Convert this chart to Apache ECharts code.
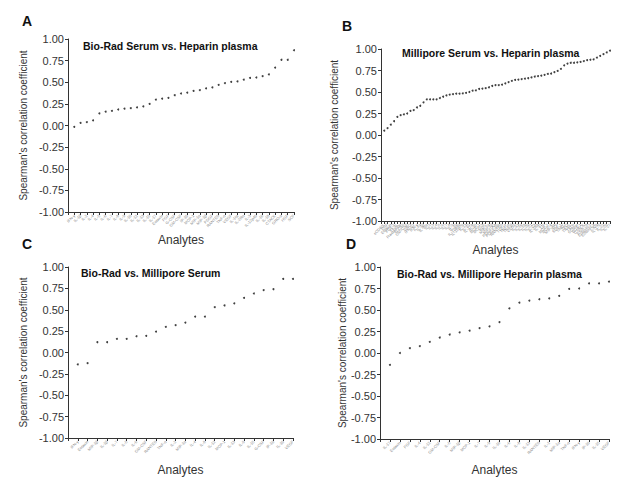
<!DOCTYPE html>
<html><head><meta charset="utf-8">
<script src="https://cdn.jsdelivr.net/npm/echarts@6/dist/echarts.min.js"></script>
<style>html,body{margin:0;padding:0;background:#fff}#c{width:617px;height:477px}</style>
</head><body><div id="c"></div>
<script>
var namesA = ['IFN-γ','IL-1β','IL-2','IL-4','IL-5','IL-6','IL-7','IL-8','IL-9','IL-10','IL-12','IL-13','IL-15','IL-17','Eotaxin','FGF','G-CSF','GM-CSF','IP-10','MCP-1','MIP-1α','MIP-1β','PDGF','RANTES','TNF-α','VEGF','IL-1ra','IL-2Rα','IL-3','IL-12p40','IL-16','IL-18','CTACK','GRO-α','HGF','SCF'];
var valuesA = [-0.015,0.03,0.04,0.06,0.14,0.16,0.17,0.185,0.195,0.2,0.21,0.22,0.25,0.30,0.31,0.32,0.35,0.37,0.38,0.40,0.41,0.43,0.44,0.47,0.49,0.505,0.51,0.53,0.55,0.555,0.57,0.59,0.67,0.76,0.76,0.87];

var namesB = ['sCD40L','EGF','Eotaxin','FGF-2','Flt-3L','Fractalkine','G-CSF','GM-CSF','GRO','IFN-α2','IFN-γ','IL-1α','IL-1β','IL-1ra','IL-2','IL-3','IL-4','IL-5','IL-6','IL-7','IL-8','IL-9','IL-10','IL-12p40','IL-12p70','IL-13','IL-15','IL-17A','IP-10','MCP-1','MCP-3','MDC','MIP-1α','MIP-1β','PDGF-AA','PDGF-BB','RANTES','TGF-α','TNF-α','TNF-β','VEGF','IL-33','IL-16','IL-18','IL-20','IL-21','IL-23','IL-28A','IL-31','LIF','MCP-2','MCP-4','MIP-3α','SCF','SDF-1','TARC','TPO','TRAIL','TSLP','6Ckine','BCA-1','CTACK','ENA-78','Eotaxin-2','Eotaxin-3','I-309','IL-17F','IL-22','IL-25','IL-27'];
var valuesB = [0.05,0.08,0.12,0.16,0.21,0.23,0.24,0.25,0.28,0.29,0.32,0.34,0.38,0.415,0.415,0.415,0.415,0.43,0.445,0.46,0.47,0.475,0.48,0.48,0.485,0.49,0.50,0.515,0.52,0.535,0.54,0.545,0.555,0.57,0.58,0.58,0.585,0.60,0.615,0.63,0.64,0.645,0.65,0.655,0.66,0.67,0.68,0.685,0.69,0.70,0.71,0.715,0.73,0.745,0.77,0.81,0.83,0.84,0.84,0.845,0.85,0.86,0.87,0.875,0.88,0.90,0.92,0.94,0.96,0.98];

var namesC = ['IFN-γ','Eotaxin','MIP-1β','IL-1β','IL-7','IL-5','IL-6','GM-CSF','RANTES','TNF-α','IL-2','MIP-1α','IL-4','IL-8','IL-12','MCP-1','IL-13','IL-9','IL-15','G-CSF','IP-10','IL-10','VEGF'];
var valuesC = [-0.14,-0.125,0.12,0.12,0.16,0.16,0.19,0.195,0.245,0.30,0.32,0.35,0.42,0.42,0.53,0.55,0.575,0.64,0.69,0.73,0.74,0.86,0.86];

var namesD = ['IL-17','Eotaxin','FGF','IL-4','IL-12','GM-CSF','IL-5','MIP-1β','MCP-1','IL-7','IL-9','IL-10','IL-6','IL-8','IL-13','RANTES','IL-2','MIP-1α','TNF-α','IFN-γ','IP-10','IL-15','VEGF'];
var valuesD = [-0.137,0.0,0.056,0.08,0.13,0.18,0.215,0.24,0.26,0.29,0.31,0.36,0.52,0.585,0.61,0.625,0.635,0.665,0.745,0.75,0.81,0.81,0.83];

var FONT = 'Liberation Sans, Arial, sans-serif';
var panels = [
  {names:namesA, values:valuesA, grid:{left:68, top:39, width:226, height:173}, yGap:40, xGap:22},
  {names:namesB, values:valuesB, grid:{left:381, top:49, width:229, height:172}, yGap:42, xGap:23},
  {names:namesC, values:valuesC, grid:{left:68, top:267, width:225, height:172}, yGap:40, xGap:26},
  {names:namesD, values:valuesD, grid:{left:380, top:267, width:229, height:172}, yGap:30, xGap:25}
];

var option = {
  animation:false,
  backgroundColor:'#fff',
  title:[
    {text:'A', left:22, top:14},
    {text:'B', left:342, top:19},
    {text:'C', left:22, top:237},
    {text:'D', left:346, top:237},
    {text:'Bio-Rad Serum vs. Heparin plasma', left:83, top:40, sub:true},
    {text:'Millipore Serum vs. Heparin plasma', left:402, top:47, sub:true},
    {text:'Bio-Rad vs. Millipore Serum', left:81, top:267, sub:true},
    {text:'Bio-Rad vs. Millipore Heparin plasma', left:397, top:268, sub:true}
  ].map(function(t){
    return {text:t.text, left:t.left, top:t.top, padding:0,
      textStyle:{fontFamily:FONT, fontWeight:'bold', fontSize:t.sub?10.5:14, color:'#111'}};
  }),
  grid:[], xAxis:[], yAxis:[], series:[]
};

panels.forEach(function(p, i){
  option.grid.push(p.grid);
  option.xAxis.push({
    type:'category', gridIndex:i, boundaryGap:false,
    data:[''].concat(p.names),
    name:'Analytes', nameLocation:'middle', nameGap:p.xGap,
    nameTextStyle:{fontFamily:FONT, fontSize:12, color:'#333'},
    axisLine:{onZero:false, lineStyle:{color:'#333', width:1}},
    axisTick:{show:true, length:3, interval:0, lineStyle:{color:'#333'}},
    axisLabel:{interval:0, rotate:45, fontSize:4, color:'#888', margin:3, fontFamily:FONT},
    splitLine:{show:false}
  });
  option.yAxis.push({
    type:'value', gridIndex:i, min:-1, max:1, interval:0.25,
    name:"Spearman's correlation coefficient", nameLocation:'middle', nameGap:p.yGap,
    nameTextStyle:{fontFamily:FONT, fontSize:10, color:'#333'},
    axisLine:{show:true, onZero:false, lineStyle:{color:'#333', width:1}},
    axisTick:{show:true, length:3, lineStyle:{color:'#333'}},
    axisLabel:{fontSize:11, color:'#333', margin:4, fontFamily:FONT,
      formatter:function(v){ return v.toFixed(2); }},
    splitLine:{show:false}
  });
  option.series.push({
    type:'scatter', xAxisIndex:i, yAxisIndex:i,
    data:p.names.map(function(n, k){ return [n, p.values[k]]; }),
    symbol:'circle', symbolSize:2, itemStyle:{color:'#111'}
  });
});

var chart = echarts.init(document.getElementById('c'), null, {renderer:'svg'});
chart.setOption(option);
</script>
</body></html>
